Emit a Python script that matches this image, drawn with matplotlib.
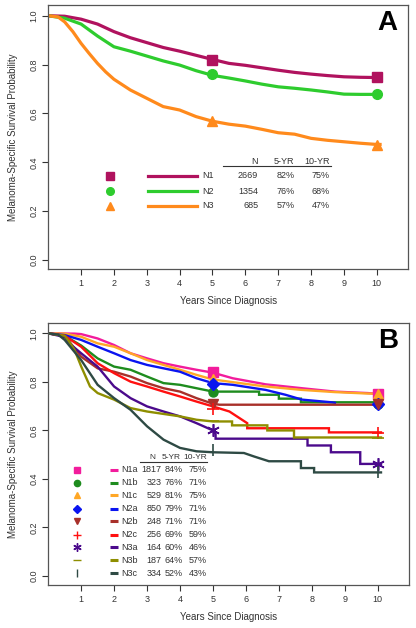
import matplotlib
matplotlib.use("Agg")
import matplotlib.pyplot as plt

# ---------------- Panel A data ----------------
a_groups = ["N1", "N2", "N3"]
a_n = [2669, 1354, 685]
a_5yr = [82, 76, 57]
a_10yr = [75, 68, 47]
a_colors = ["#B0125E", "#2ECC2E", "#FF8A1C"]
a_markers = ["s", "o", "^"]
a_t = [
    [0, 0.5, 1, 1.5, 2, 2.5, 3, 3.5, 4, 4.5, 5, 5.5, 6, 6.5, 7, 7.5, 8, 8.5, 9, 9.5, 10, 10.1],
    [0, 0.5, 1, 1.5, 2, 2.5, 3, 3.5, 4, 4.5, 5, 5.5, 6, 6.5, 7, 7.5, 8, 8.5, 9, 9.5, 10, 10.1],
    [0, 0.3, 0.5, 0.75, 1, 1.25, 1.5, 1.75, 2, 2.5, 3, 3.5, 4, 4.5, 5, 5.5, 6, 6.5, 7, 7.5, 8, 8.5, 9, 9.5, 10, 10.1],
]
a_s = [
    [1, 0.998, 0.986, 0.966, 0.935, 0.91, 0.89, 0.87, 0.855, 0.838, 0.821, 0.805, 0.797, 0.787, 0.777, 0.768, 0.761, 0.755, 0.750, 0.748, 0.747, 0.747],
    [1, 0.99, 0.966, 0.917, 0.873, 0.855, 0.835, 0.815, 0.798, 0.775, 0.756, 0.745, 0.733, 0.72, 0.709, 0.703, 0.696, 0.688, 0.679, 0.678, 0.678, 0.678],
    [1, 0.995, 0.975, 0.935, 0.887, 0.845, 0.805, 0.77, 0.74, 0.696, 0.662, 0.628, 0.614, 0.587, 0.568, 0.556, 0.548, 0.535, 0.521, 0.515, 0.498, 0.49, 0.484, 0.478, 0.473, 0.473],
]

# ---------------- Panel B data ----------------
b_groups = ["N1a", "N1b", "N1c", "N2a", "N2b", "N2c", "N3a", "N3b", "N3c"]
b_n = [1817, 323, 529, 850, 248, 256, 164, 187, 334]
b_5yr = [84, 76, 81, 79, 71, 69, 60, 64, 52]
b_10yr = [75, 71, 75, 71, 71, 59, 46, 57, 43]
b_colors = ["#F21C9C", "#1E8C1E", "#FFA726", "#0A14F0", "#A8302A", "#FF1010", "#4B0A8C", "#8E8E00", "#2E4A44"]
b_markers = ["s", "o", "^", "D", "v", "+", (6, 2, 0), "_", "|"]
b_t = [
    [0, 0.8, 1, 1.5, 2, 2.5, 3, 3.5, 4, 4.5, 5, 5.6, 6.6, 7.7, 8.7, 9.7, 10.1],
    [0, 0.5, 1, 1.5, 2, 2.5, 3, 3.5, 4, 4.5, 5, 6.4, 6.4, 7.0, 7.0, 7.67, 7.67, 10.1],
    [0, 0.5, 1, 1.5, 2, 2.5, 3, 3.5, 4, 4.5, 5, 5.6, 6.6, 7.7, 8.7, 9.7, 10.1],
    [0, 0.5, 1, 1.5, 2, 2.5, 3, 3.5, 4, 4.5, 5, 5.6, 6.6, 7.2, 7.7, 8.6, 8.7],
    [0, 0.5, 1, 1.5, 2, 2.5, 3, 3.5, 4, 4.5, 5, 5.2, 10.1],
    [0, 0.5, 1, 1.5, 2, 2.5, 3, 3.5, 4, 4.5, 5, 5.5, 6.04, 6.04, 8.52, 8.52, 10.1],
    [0, 0.5, 0.7, 1, 1.5, 2, 2.5, 3, 3.5, 4, 4.5, 5, 5.08, 5.08, 7.87, 7.87, 8.58, 8.58, 9.47, 9.47, 10.1],
    [0, 0.5, 0.6, 0.8, 1, 1.27, 1.5, 2, 2.5, 3, 3.5, 4, 4.5, 5, 5.58, 5.58, 6.65, 6.65, 7.46, 7.46, 10.1],
    [0, 0.3, 0.5, 1, 1.5, 2, 2.5, 3, 3.5, 4, 4.5, 5, 5.94, 6.24, 6.7, 7.67, 7.67, 8.07, 8.07, 10.1],
]
b_s = [
    [1, 0.999, 0.997, 0.979, 0.952, 0.918, 0.897, 0.877, 0.863, 0.85, 0.838, 0.815, 0.79, 0.774, 0.76, 0.754, 0.75],
    [1, 0.99, 0.95, 0.897, 0.863, 0.85, 0.822, 0.795, 0.788, 0.774, 0.76, 0.76, 0.747, 0.747, 0.731, 0.731, 0.716, 0.716],
    [1, 0.999, 0.986, 0.959, 0.945, 0.918, 0.89, 0.87, 0.85, 0.829, 0.81, 0.799, 0.781, 0.767, 0.758, 0.752, 0.751],
    [1, 0.993, 0.973, 0.945, 0.918, 0.89, 0.87, 0.856, 0.842, 0.815, 0.795, 0.788, 0.767, 0.747, 0.727, 0.716, 0.714],
    [1, 0.99, 0.904, 0.856, 0.842, 0.822, 0.795, 0.774, 0.76, 0.733, 0.71, 0.706, 0.706],
    [1, 0.99, 0.945, 0.877, 0.836, 0.801, 0.781, 0.76, 0.74, 0.719, 0.699, 0.678, 0.63, 0.609, 0.609, 0.592, 0.592],
    [1, 0.985, 0.952, 0.918, 0.863, 0.781, 0.733, 0.699, 0.678, 0.658, 0.63, 0.6, 0.585, 0.566, 0.566, 0.538, 0.538, 0.51, 0.51, 0.462, 0.462],
    [1, 0.99, 0.973, 0.932, 0.864, 0.781, 0.754, 0.727, 0.692, 0.678, 0.668, 0.658, 0.644, 0.637, 0.637, 0.621, 0.621, 0.6, 0.6, 0.571, 0.571],
    [1, 0.995, 0.973, 0.89, 0.788, 0.733, 0.685, 0.617, 0.562, 0.528, 0.514, 0.51, 0.507, 0.493, 0.473, 0.473, 0.445, 0.445, 0.427, 0.427],
]

x_ticks = [1, 2, 3, 4, 5, 6, 7, 8, 9, 10]
y_ticks = [0.0, 0.2, 0.4, 0.6, 0.8, 1.0]

plt.rcParams["font.family"] = ["Liberation Sans", "DejaVu Sans"]

fig = plt.figure(figsize=(4.16, 6.28), dpi=100)
W, H = 416, 628
TXT = "#333333"


def make_ax(left_px, top_px, right_px, bottom_px):
    return fig.add_axes([left_px / W, 1 - bottom_px / H, (right_px - left_px) / W, (bottom_px - top_px) / H])


def style_ax(ax, label):
    ax.set_xlim(0, 10.95)
    ax.set_ylim(-0.037, 1.044)
    ax.set_xticks(x_ticks)
    ax.set_yticks(y_ticks)
    ax.set_yticklabels([f"{v:.1f}" for v in y_ticks], rotation=90, va="center")
    ax.tick_params(direction="out", length=4, width=0.8, labelsize=6.5, colors=TXT, pad=3)
    for sp in ax.spines.values():
        sp.set_color("#555555")
        sp.set_linewidth(0.9)
    ax.set_xlabel("Years Since Diagnosis", fontsize=7, color=TXT, labelpad=6)
    ax.set_ylabel("Melanoma-Specific Survival Probability", fontsize=7, color=TXT, labelpad=8)
    ax.text(0.97, 0.93, label, transform=ax.transAxes, ha="right", va="center",
            fontsize=20, fontweight="bold", color="black")


def is_thin(m):
    return m in ("+", "_", "|") or isinstance(m, tuple)


# ---------------- Panel A ----------------
axA = make_ax(48.2, 5, 408, 269)
for i, g in enumerate(a_groups):
    axA.plot(a_t[i], a_s[i], color=a_colors[i], lw=2.3, solid_joinstyle="round")
    axA.plot([5, 10], [a_5yr[i] / 100, a_10yr[i] / 100], ls="none", marker=a_markers[i],
             color=a_colors[i], ms=7)
style_ax(axA, "A")

rowsA = [0.344, 0.282, 0.221]
fs = 6.5
axA.text(6.39, 0.405, "N", ha="right", va="center", fontsize=fs, color=TXT)
axA.text(7.49, 0.405, "5-YR", ha="right", va="center", fontsize=fs, color=TXT)
axA.text(8.58, 0.405, "10-YR", ha="right", va="center", fontsize=fs, color=TXT)
axA.plot([5.32, 8.61], [0.385, 0.385], color=TXT, lw=0.8)
for i, g in enumerate(a_groups):
    y = rowsA[i]
    axA.plot([1.88], [y], marker=a_markers[i], color=a_colors[i], ms=5.5, ls="none")
    axA.plot([3.04, 4.53], [y, y], color=a_colors[i], lw=2.3)
    axA.text(4.68, y, g, ha="left", va="center", fontsize=fs, color=TXT)
    axA.text(6.39, y, str(a_n[i]), ha="right", va="center", fontsize=fs, color=TXT)
    axA.text(7.49, y, f"{a_5yr[i]}%", ha="right", va="center", fontsize=fs, color=TXT)
    axA.text(8.58, y, f"{a_10yr[i]}%", ha="right", va="center", fontsize=fs, color=TXT)

# ---------------- Panel B ----------------
axB = make_ax(48.2, 322.7, 409, 585)
for i, g in enumerate(b_groups):
    axB.plot(b_t[i], b_s[i], color=b_colors[i], lw=1.7, solid_joinstyle="miter")
for i, g in enumerate(b_groups):
    m = b_markers[i]
    thin = is_thin(m)
    axB.plot([5, 10], [b_5yr[i] / 100, b_10yr[i] / 100], ls="none", marker=m,
             color=b_colors[i], ms=9 if thin else 6.5, mew=1.2 if thin else 1)
style_ax(axB, "B")

rowsB = [0.438, 0.384, 0.332, 0.278, 0.225, 0.171, 0.119, 0.066, 0.012]
fsb = 6.5
fsh = 6.0
axB.text(3.16, 0.489, "N", ha="center", va="center", fontsize=fsh, color=TXT)
axB.text(4.02, 0.489, "5-YR", ha="right", va="center", fontsize=fsh, color=TXT)
axB.text(4.82, 0.489, "10-YR", ha="right", va="center", fontsize=fsh, color=TXT)
axB.plot([2.8, 4.82], [0.468, 0.468], color=TXT, lw=0.8)
for i, g in enumerate(b_groups):
    y = rowsB[i]
    m = b_markers[i]
    thin = is_thin(m)
    axB.plot([0.88], [y], marker=m, color=b_colors[i], ms=6 if thin else 4.5, mew=1, ls="none")
    axB.plot([1.88, 2.12], [y, y], color=b_colors[i], lw=2.2, solid_capstyle="butt")
    axB.text(2.22, y, g, ha="left", va="center", fontsize=fsb, color=TXT)
    axB.text(3.43, y, str(b_n[i]), ha="right", va="center", fontsize=fsb, color=TXT)
    axB.text(4.07, y, f"{b_5yr[i]}%", ha="right", va="center", fontsize=fsb, color=TXT)
    axB.text(4.82, y, f"{b_10yr[i]}%", ha="right", va="center", fontsize=fsb, color=TXT)

fig.savefig("out.png", dpi=100)
